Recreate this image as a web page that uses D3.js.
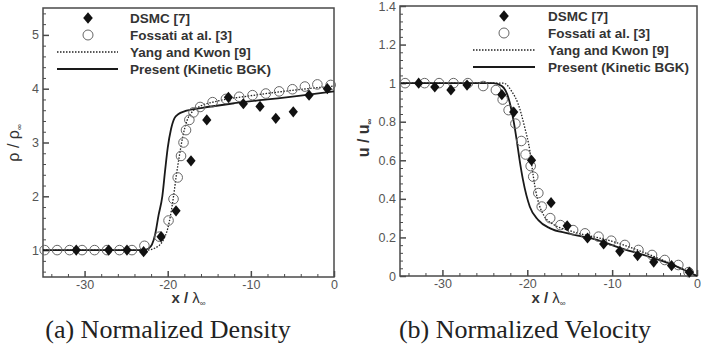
<!DOCTYPE html>
<html><head><meta charset="utf-8">
<script src="https://cdn.jsdelivr.net/npm/d3@7"></script>
<style>body{margin:0;background:#fff}</style>
</head><body><svg id="c" width="701" height="360"></svg>
<script>
// ---------- data ----------
const xTickValues = [-30, -20, -10, 0];
const densTickValues = [1, 2, 3, 4, 5];
const velTickValues = [0, 0.2, 0.4, 0.6, 0.8, 1, 1.2, 1.4];
const legendLabels = ["DSMC [7]", "Fossati at al. [3]", "Yang and Kwon [9]", "Present (Kinetic BGK)"];
const captions = ["(a) Normalized Density", "(b) Normalized Velocity"];

// density panel
const densDsmcX = [-31, -27.1, -24.9, -22.9, -20.8, -19.0, -17.2, -15.3, -12.7, -10.9, -8.9, -7.0, -4.9, -3.0, -0.8];
const densDsmcY = [1.0, 1.0, 1.0, 0.97, 1.25, 1.73, 2.66, 3.42, 3.84, 3.72, 3.67, 3.45, 3.57, 3.88, 4.0];
const densFossX = [-34.8, -33.3, -31.8, -30.3, -28.8, -27.3, -25.8, -24.3, -22.8, -21.0, -19.9, -19.3, -18.8, -18.4, -18.1, -17.8, -17.4, -16.9, -16.1, -14.6, -13.0, -11.4, -9.8, -8.2, -6.6, -5.0, -3.5, -2.0, -0.4];
const densFossY = [1.0, 1.0, 1.0, 1.0, 1.0, 1.0, 1.0, 1.0, 1.08, 1.25, 1.55, 1.95, 2.35, 2.75, 3.0, 3.23, 3.42, 3.56, 3.66, 3.75, 3.81, 3.85, 3.88, 3.91, 3.95, 3.99, 4.04, 4.08, 4.07];
const densYangX = [-35, -22.5, -21.5, -20.5, -20.0, -19.6, -19.3, -19.0, -18.6, -18.2, -17.7, -17.0, -16.0, -14.0, -10.0, -5.0, 0];
const densYangY = [1.0, 1.0, 1.04, 1.2, 1.4, 1.7, 2.0, 2.35, 2.75, 3.1, 3.4, 3.58, 3.68, 3.77, 3.87, 3.97, 4.05];
const densBgkX = [-35, -23, -22.3, -21.9, -21.5, -21.1, -20.65, -20.3, -20.0, -19.6, -19.2, -18.7, -18.0, -16.0, -12.0, -8.0, -4.0, 0];
const densBgkY = [1.0, 1.0, 1.03, 1.1, 1.3, 1.65, 2.0, 2.5, 2.9, 3.25, 3.45, 3.53, 3.58, 3.64, 3.73, 3.8, 3.87, 3.95];

// velocity panel
const velDsmcX = [-32.8, -30.9, -29.0, -27.1, -23.0, -21.6, -19.5, -17.2, -15.3, -12.9, -11.0, -9.1, -7.0, -5.1, -3.0, -0.9];
const velDsmcY = [1.0, 0.98, 0.965, 0.99, 0.94, 0.85, 0.60, 0.38, 0.26, 0.197, 0.166, 0.128, 0.106, 0.072, 0.054, 0.02];
const velFossX = [-34.4, -32.1, -30.4, -28.7, -27.0, -25.2, -23.7, -22.9, -22.2, -21.4, -20.7, -20.2, -19.6, -19.3, -18.7, -18.3, -17.3, -16.1, -14.6, -13.2, -11.6, -10.1, -8.5, -6.9, -5.3, -3.8, -2.2, -1.0];
const velFossY = [1.0, 1.0, 1.0, 1.0, 1.0, 0.985, 0.964, 0.915, 0.86, 0.79, 0.70, 0.63, 0.57, 0.515, 0.43, 0.36, 0.30, 0.264, 0.238, 0.221, 0.204, 0.183, 0.161, 0.135, 0.109, 0.083, 0.057, 0.02];
const velYangX = [-35, -22.8, -21.8, -21.1, -20.3, -19.7, -19.3, -19.0, -18.6, -18.0, -17.0, -15.0, -10.0, -5.0, 0];
const velYangY = [1.0, 1.0, 0.955, 0.895, 0.77, 0.65, 0.52, 0.44, 0.37, 0.31, 0.27, 0.235, 0.18, 0.10, 0.0];
const velBgkX = [-35, -24.0, -23.0, -22.2, -21.6, -21.25, -20.9, -20.5, -19.7, -18.7, -17.3, -15.2, -12.0, -9.0, -6.0, -3.0, 0];
const velBgkY = [1.0, 1.0, 0.985, 0.92, 0.8, 0.705, 0.6, 0.497, 0.359, 0.29, 0.247, 0.221, 0.19, 0.145, 0.105, 0.06, 0.0];

// ---------- drawing ----------
const svg = d3.select("#c");
const FONT = "'Liberation Sans', Arial, sans-serif";
const AX = "#4a4a4a";

function diamondPath(cx, cy, w, h) {
  return `M${cx},${cy - h}L${cx + w},${cy}L${cx},${cy + h}L${cx - w},${cy}Z`;
}

function panel(cfg) {
  const x = d3.scaleLinear().domain([-35, 0]).range(cfg.xr);
  const y = d3.scaleLinear().domain(cfg.yd).range(cfg.yr);
  const g = svg.append("g");

  g.append("rect").attr("x", cfg.xr[0]).attr("y", cfg.yr[1])
    .attr("width", cfg.xr[1] - cfg.xr[0]).attr("height", cfg.yr[0] - cfg.yr[1])
    .attr("fill", "none").attr("stroke", AX).attr("stroke-width", 1.5);

  const xMinor = d3.range(-34, 0.01, 2).filter(v => xTickValues.indexOf(v) < 0);
  const xa = g.append("g").attr("transform", `translate(0,${cfg.yr[0]})`)
    .call(d3.axisBottom(x).tickValues(xTickValues).tickSizeInner(-6).tickSizeOuter(0).tickPadding(3).tickFormat(d => String(d)));
  xa.select(".domain").remove();
  xa.selectAll("line").attr("stroke", AX).attr("stroke-width", 1.5);
  xa.selectAll("text").attr("font-family", FONT).attr("font-size", 12.5).attr("fill", "#555");
  const xm = g.append("g").attr("transform", `translate(0,${cfg.yr[0]})`)
    .call(d3.axisBottom(x).tickValues(xMinor).tickSizeInner(-3).tickSizeOuter(0).tickFormat(""));
  xm.select(".domain").remove();
  xm.selectAll("line").attr("stroke", AX).attr("stroke-width", 1);

  const ya = g.append("g").attr("transform", `translate(${cfg.xr[0]},0)`)
    .call(d3.axisLeft(y).tickValues(cfg.yt).tickSizeInner(-6).tickSizeOuter(0).tickPadding(4).tickFormat(cfg.yfmt));
  ya.select(".domain").remove();
  ya.selectAll("line").attr("stroke", AX).attr("stroke-width", 1.5);
  ya.selectAll("text").attr("font-family", FONT).attr("font-size", 12.5).attr("fill", "#555");
  const ym = g.append("g").attr("transform", `translate(${cfg.xr[0]},0)`)
    .call(d3.axisLeft(y).tickValues(cfg.ymin).tickSizeInner(-3).tickSizeOuter(0).tickFormat(""));
  ym.select(".domain").remove();
  ym.selectAll("line").attr("stroke", AX).attr("stroke-width", 1);

  const line = d3.line().x(d => x(d[0])).y(d => y(d[1])).curve(d3.curveMonotoneX);
  g.append("path").attr("d", line(d3.zip(cfg.yangX, cfg.yangY)))
    .attr("fill", "none").attr("stroke", "#222").attr("stroke-width", 1.3).attr("stroke-dasharray", "1.5,1.5");
  g.append("path").attr("d", line(d3.zip(cfg.bgkX, cfg.bgkY)))
    .attr("fill", "none").attr("stroke", "#1a1a1a").attr("stroke-width", 1.8);

  g.selectAll(".foss").data(d3.zip(cfg.fossX, cfg.fossY)).enter().append("circle")
    .attr("cx", d => x(d[0])).attr("cy", d => y(d[1])).attr("r", 4.8)
    .attr("fill", "none").attr("stroke", "#666").attr("stroke-width", 1);
  g.selectAll(".dsmc").data(d3.zip(cfg.dsmcX, cfg.dsmcY)).enter().append("path")
    .attr("d", d => diamondPath(x(d[0]), y(d[1]), 4.6, 5.6)).attr("fill", "#111");

  const L = cfg.leg;
  const lg = g.append("g");
  lg.append("path").attr("d", diamondPath(L.sx, L.y0, 4.8, 5.8)).attr("fill", "#111");
  lg.append("circle").attr("cx", L.sx).attr("cy", L.y0 + L.dy).attr("r", 5).attr("fill", "none").attr("stroke", "#666").attr("stroke-width", 1);
  lg.append("line").attr("x1", L.l1).attr("x2", L.l2).attr("y1", L.y0 + 2 * L.dy).attr("y2", L.y0 + 2 * L.dy)
    .attr("stroke", "#222").attr("stroke-width", 1.3).attr("stroke-dasharray", "1.5,1.5");
  lg.append("line").attr("x1", L.l1).attr("x2", L.l2).attr("y1", L.y0 + 3 * L.dy).attr("y2", L.y0 + 3 * L.dy)
    .attr("stroke", "#1a1a1a").attr("stroke-width", 1.8);
  lg.selectAll("text").data(legendLabels).enter().append("text")
    .attr("x", L.tx).attr("y", (d, i) => L.y0 + i * L.dy + 5)
    .attr("font-family", FONT).attr("font-weight", "bold").attr("font-size", 13.5).attr("fill", "#333")
    .text(d => d);

  const xt = g.append("text").attr("x", (cfg.xr[0] + cfg.xr[1]) / 2).attr("y", 303)
    .attr("text-anchor", "middle").attr("font-family", FONT).attr("font-size", 15).attr("fill", "#333");
  xt.append("tspan").attr("font-weight", "bold").text("x / ");
  xt.append("tspan").text("λ");
  xt.append("tspan").attr("font-size", 8).attr("dy", 3).text("∞");

  const yt = g.append("text").attr("transform", `translate(${cfg.ytx},${cfg.yty}) rotate(-90)`)
    .attr("text-anchor", "middle").attr("font-family", FONT).attr("font-size", 16).attr("fill", "#333")
    .attr("font-weight", cfg.ytBold ? "bold" : "normal");
  yt.append("tspan").text(cfg.ytMain);
  yt.append("tspan").attr("font-size", 8).attr("dy", 3).text("∞");

  svg.append("text").attr("x", cfg.capX).attr("y", 338).attr("text-anchor", "middle")
    .attr("font-family", "'Liberation Serif', 'Times New Roman', serif").attr("font-size", 26).attr("fill", "#222")
    .text(cfg.caption);
}

panel({
  xr: [43, 334], yr: [277, 8], yd: [0.5, 5.5], yt: densTickValues, yfmt: d => String(d),
  ymin: d3.range(0.6, 5.45, 0.2).map(v => +v.toFixed(2)).filter(v => Math.abs(v - Math.round(v)) > 0.01),
  dsmcX: densDsmcX, dsmcY: densDsmcY, fossX: densFossX, fossY: densFossY,
  yangX: densYangX, yangY: densYangY, bgkX: densBgkX, bgkY: densBgkY,
  leg: { sx: 88, l1: 57, l2: 118, tx: 130, y0: 18, dy: 17 },
  ytx: 19, yty: 143, ytMain: "ρ / ρ", ytBold: false,
  capX: 168, caption: captions[0]
});

panel({
  xr: [400, 697], yr: [276, 6], yd: [0, 1.4], yt: velTickValues, yfmt: d => String(+d.toFixed(1)),
  ymin: d3.range(0.04, 1.39, 0.04).map(v => +v.toFixed(2)).filter(v => Math.abs(v * 5 - Math.round(v * 5)) > 0.01),
  dsmcX: velDsmcX, dsmcY: velDsmcY, fossX: velFossX, fossY: velFossY,
  yangX: velYangX, yangY: velYangY, bgkX: velBgkX, bgkY: velBgkY,
  leg: { sx: 504, l1: 473, l2: 535, tx: 548, y0: 16, dy: 17 },
  ytx: 369, yty: 138, ytMain: "u / u", ytBold: true,
  capX: 525, caption: captions[1]
});
</script></body></html>
